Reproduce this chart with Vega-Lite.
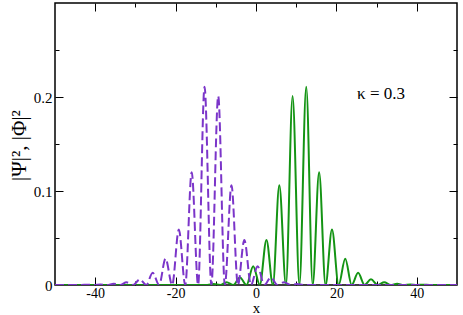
{
  "$schema": "https://vega.github.io/schema/vega-lite/v6.json",
  "width": 402,
  "height": 282,
  "autosize": {"type": "none"},
  "padding": {"left": 55, "top": 3, "right": 6, "bottom": 30},
  "background": "white",
  "config": {
    "view": {"stroke": "black", "strokeWidth": 1.5},
    "axis": {
      "labelFont": "Liberation Serif",
      "labelFontSize": 15,
      "labelColor": "black",
      "titleFont": "Liberation Serif",
      "titleFontSize": 17,
      "titleFontWeight": "normal",
      "titleColor": "black",
      "grid": false,
      "domain": false,
      "tickColor": "black",
      "tickWidth": 1
    }
  },
  "data": {
    "values": [
      {"s": "Phi", "x": -50, "y": 0},
      {"s": "Phi", "x": -12.1, "y": 0},
      {"s": "Phi", "x": -10.5, "y": 0.001},
      {"s": "Phi", "x": -8.9, "y": 0},
      {"s": "Phi", "x": -7.3, "y": 0.003},
      {"s": "Phi", "x": -5.65, "y": 0},
      {"s": "Phi", "x": -4.0, "y": 0.008},
      {"s": "Phi", "x": -2.35, "y": 0},
      {"s": "Phi", "x": -0.7, "y": 0.020},
      {"s": "Phi", "x": 0.95, "y": 0},
      {"s": "Phi", "x": 2.6, "y": 0.048},
      {"s": "Phi", "x": 4.2, "y": 0},
      {"s": "Phi", "x": 5.8, "y": 0.106},
      {"s": "Phi", "x": 7.45, "y": 0},
      {"s": "Phi", "x": 9.1, "y": 0.201},
      {"s": "Phi", "x": 10.8, "y": 0},
      {"s": "Phi", "x": 12.5, "y": 0.211},
      {"s": "Phi", "x": 14.1, "y": 0},
      {"s": "Phi", "x": 15.7, "y": 0.120},
      {"s": "Phi", "x": 17.3, "y": 0},
      {"s": "Phi", "x": 18.9, "y": 0.059},
      {"s": "Phi", "x": 20.55, "y": 0},
      {"s": "Phi", "x": 22.2, "y": 0.028},
      {"s": "Phi", "x": 23.8, "y": 0},
      {"s": "Phi", "x": 25.4, "y": 0.013},
      {"s": "Phi", "x": 27.0, "y": 0},
      {"s": "Phi", "x": 28.6, "y": 0.006},
      {"s": "Phi", "x": 30.25, "y": 0},
      {"s": "Phi", "x": 31.9, "y": 0.0028},
      {"s": "Phi", "x": 33.5, "y": 0},
      {"s": "Phi", "x": 35.1, "y": 0.0013},
      {"s": "Phi", "x": 36.75, "y": 0},
      {"s": "Phi", "x": 38.4, "y": 0.0006},
      {"s": "Phi", "x": 40.0, "y": 0},
      {"s": "Phi", "x": 41.6, "y": 0.0003},
      {"s": "Phi", "x": 43.2, "y": 0},
      {"s": "Phi", "x": 50, "y": 0},
      {"s": "Psi", "x": -50, "y": 0},
      {"s": "Psi", "x": -43.5, "y": 0},
      {"s": "Psi", "x": -41.9, "y": 0.0003},
      {"s": "Psi", "x": -40.3, "y": 0},
      {"s": "Psi", "x": -38.7, "y": 0.0006},
      {"s": "Psi", "x": -37.05, "y": 0},
      {"s": "Psi", "x": -35.4, "y": 0.0013},
      {"s": "Psi", "x": -33.8, "y": 0},
      {"s": "Psi", "x": -32.2, "y": 0.0028},
      {"s": "Psi", "x": -30.55, "y": 0},
      {"s": "Psi", "x": -28.9, "y": 0.006},
      {"s": "Psi", "x": -27.3, "y": 0},
      {"s": "Psi", "x": -25.7, "y": 0.013},
      {"s": "Psi", "x": -24.1, "y": 0},
      {"s": "Psi", "x": -22.5, "y": 0.028},
      {"s": "Psi", "x": -20.85, "y": 0},
      {"s": "Psi", "x": -19.2, "y": 0.059},
      {"s": "Psi", "x": -17.6, "y": 0},
      {"s": "Psi", "x": -16.0, "y": 0.120},
      {"s": "Psi", "x": -14.4, "y": 0},
      {"s": "Psi", "x": -12.8, "y": 0.211},
      {"s": "Psi", "x": -11.1, "y": 0},
      {"s": "Psi", "x": -9.4, "y": 0.201},
      {"s": "Psi", "x": -7.75, "y": 0},
      {"s": "Psi", "x": -6.1, "y": 0.106},
      {"s": "Psi", "x": -4.5, "y": 0},
      {"s": "Psi", "x": -2.9, "y": 0.048},
      {"s": "Psi", "x": -1.25, "y": 0},
      {"s": "Psi", "x": 0.4, "y": 0.020},
      {"s": "Psi", "x": 2.05, "y": 0},
      {"s": "Psi", "x": 3.7, "y": 0.008},
      {"s": "Psi", "x": 5.35, "y": 0},
      {"s": "Psi", "x": 7.0, "y": 0.003},
      {"s": "Psi", "x": 8.6, "y": 0},
      {"s": "Psi", "x": 10.2, "y": 0.001},
      {"s": "Psi", "x": 11.8, "y": 0},
      {"s": "Psi", "x": 50, "y": 0}
    ]
  },
  "resolve": {"axis": {"x": "independent", "y": "independent"}},
  "layer": [
    {
      "transform": [{"filter": "datum.s === 'Phi'"}],
      "mark": {"type": "line", "color": "#149414", "strokeWidth": 2, "interpolate": "monotone", "clip": true},
      "encoding": {
        "x": {"field": "x", "type": "quantitative",
          "scale": {"domain": [-50, 50], "nice": false},
          "axis": {"orient": "bottom", "values": [-40, -20, 0, 20, 40], "ticks": false, "labelPadding": 1, "labelFontSize": 14,
            "labelExpr": "'' + datum.value", "title": "x", "titleY": 27.5, "titleBaseline": "alphabetic", "titleFontSize": 15}},
        "y": {"field": "y", "type": "quantitative",
          "scale": {"domain": [0, 0.3], "nice": false},
          "axis": {"orient": "left", "values": [0, 0.1, 0.2], "ticks": false, "labelPadding": 3, "format": "~g",
            "title": "|Ψ|², |Φ|²", "titleFontSize": 21, "titleX": -30, "titleY": 142, "titleBaseline": "alphabetic", "titleAlign": "center", "titleAngle": -90}}
      }
    },
    {
      "transform": [{"filter": "datum.s === 'Psi'"}],
      "mark": {"type": "line", "color": "#7b35c9", "strokeWidth": 2, "strokeDash": [9, 4], "interpolate": "monotone", "clip": true},
      "encoding": {
        "x": {"field": "x", "type": "quantitative",
          "axis": {"orient": "bottom", "values": [-40, -30, -20, -10, 0, 10, 20, 30, 40], "labels": false, "title": null,
            "tickSize": {"condition": {"test": "datum.value % 20 === 0", "value": -8}, "value": -4}}},
        "y": {"field": "y", "type": "quantitative",
          "axis": {"orient": "left", "values": [0.05, 0.1, 0.15, 0.2, 0.25], "labels": false, "title": null,
            "tickSize": {"condition": {"test": "datum.value === 0.1 || datum.value === 0.2", "value": -8}, "value": -4}}}
      }
    },
    {
      "transform": [{"filter": "datum.s === 'Psi'"}],
      "mark": {"type": "point", "opacity": 0},
      "encoding": {
        "x": {"field": "x", "type": "quantitative",
          "axis": {"orient": "top", "values": [-40, -30, -20, -10, 0, 10, 20, 30, 40], "labels": false, "title": null,
            "tickSize": {"condition": {"test": "datum.value % 20 === 0", "value": -8}, "value": -4}}},
        "y": {"field": "y", "type": "quantitative",
          "axis": {"orient": "right", "values": [0.05, 0.1, 0.15, 0.2, 0.25], "labels": false, "title": null,
            "tickSize": {"condition": {"test": "datum.value === 0.1 || datum.value === 0.2", "value": -8}, "value": -4}}}
      }
    },
    {
      "data": {"values": [{"label": "κ = 0.3"}]},
      "mark": {"type": "text", "font": "Liberation Serif", "fontSize": 17, "color": "black", "align": "center", "baseline": "middle"},
      "encoding": {
        "text": {"field": "label"},
        "x": {"datum": 31.1, "type": "quantitative", "axis": null},
        "y": {"datum": 0.203, "type": "quantitative", "axis": null}
      }
    }
  ]
}
